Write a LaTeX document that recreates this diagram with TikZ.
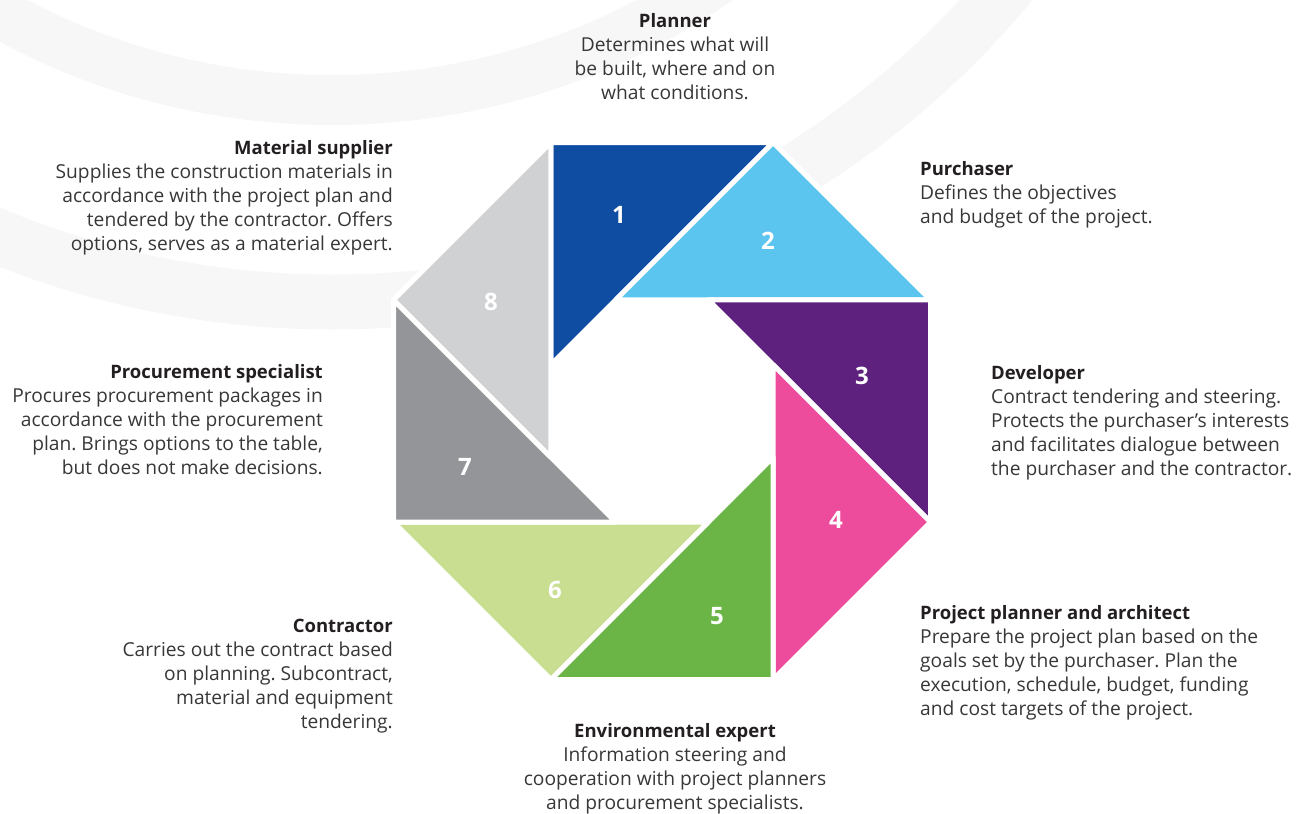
\documentclass[tikz,border=0pt]{standalone}
\usepackage{fontspec}
\setmainfont{Open Sans}
\frenchspacing
\usetikzlibrary{calc}

\definecolor{bandGrey}{RGB}{247,247,247}
\definecolor{textGrey}{RGB}{55,55,55}
\definecolor{titleGrey}{RGB}{35,31,32}
\definecolor{pieceA}{RGB}{14,77,161}
\definecolor{pieceB}{RGB}{91,196,239}
\definecolor{pieceC}{RGB}{94,33,126}
\definecolor{pieceD}{RGB}{236,76,155}
\definecolor{pieceE}{RGB}{106,181,69}
\definecolor{pieceF}{RGB}{201,222,145}
\definecolor{pieceG}{RGB}{148,149,153}
\definecolor{pieceH}{RGB}{208,209,211}

\newcommand{\roleTitle}[1]{{\fontsize{18.5}{24}\selectfont\color{titleGrey}\bfseries #1}}

\begin{document}
\begin{tikzpicture}[x=1pt,y=-1pt]

		\useasboundingbox (0,0) rectangle (1315,814);

		\tikzset{BandStyle/.style =
				{draw=bandGrey, line width=#1}
		}
		\tikzset{PieceStyle/.style =
				{draw=white, line width=5pt, line join=round}
		}
		\tikzset{NumberStyle/.style =
				{text=white, inner sep=0pt, font=\fontsize{24}{24}\selectfont\bfseries}
		}
		\tikzset{RoleStyle/.style =
				{inner sep=0pt, text=textGrey, font=\fontsize{19.2}{24}\selectfont}
		}

		%bands
		\begin{scope}
			\clip (0,0) rectangle (1315,814);
			\coordinate (bandCentre) at (332,-580);
			\draw[BandStyle=50pt] (bandCentre) circle[radius=680pt];
			\draw[BandStyle=55pt] (bandCentre) circle[radius=882pt];
		\end{scope}

		%octagon
		\coordinate (v1) at (550.8,142.5);
		\coordinate (v2) at (773.2,142.5);
		\coordinate (v3) at (930.5,299.8);
		\coordinate (v4) at (930.5,522.2);
		\coordinate (v5) at (773.2,679.5);
		\coordinate (v6) at (550.8,679.5);
		\coordinate (v7) at (393.5,522.2);
		\coordinate (v8) at (393.5,299.8);

		\filldraw[fill=white, PieceStyle] (v1) -- (v2) -- (v3) -- (v4) -- (v5) -- (v6) -- (v7) -- (v8) -- cycle;

		%pieces
		\foreach \i/\j/\col/\nx/\ny in {1/2/pieceA/619/215, 2/3/pieceB/768/241,
				3/4/pieceC/862/376, 4/5/pieceD/836/520, 5/6/pieceE/717/616,
				6/7/pieceF/555/590, 7/8/pieceG/465/467, 8/1/pieceH/491/302}{
			\filldraw[fill=\col, PieceStyle] (v\i) -- (v\j) -- ($(v\i)!1!-90:(v\j)$) -- cycle;
			\node[NumberStyle] (num\i) at (\nx,\ny) {\i};
		}

		%roles
		\node[RoleStyle, anchor=north, align=center] (planner) at (675,13)
			{\roleTitle{Planner}\\Determines what will\\be built, where and on\\what conditions.};
		\node[RoleStyle, anchor=north west, align=left] (purchaser) at (920,161)
			{\roleTitle{Purchaser}\\Defines the objectives\\and budget of the project.};
		\node[RoleStyle, anchor=north west, align=left] (developer) at (991,365)
			{\roleTitle{Developer}\\Contract tendering and steering.\\Protects the purchaser’s interests\\and facilitates dialogue between\\the purchaser and the contractor.};
		\node[RoleStyle, anchor=north west, align=left] (architect) at (920,605)
			{\roleTitle{Project planner and architect}\\Prepare the project plan based on the\\goals set by the purchaser. Plan the\\execution, schedule, budget, funding\\and cost targets of the project.};
		\node[RoleStyle, anchor=north, align=center] (envExpert) at (675,723)
			{\roleTitle{Environmental expert}\\Information steering and\\cooperation with project planners\\and procurement specialists.};
		\node[RoleStyle, anchor=north east, align=right] (contractor) at (393,619)
			{\roleTitle{Contractor}\\Carries out the contract based\\on planning. Subcontract,\\material and equipment\\tendering.};
		\node[RoleStyle, anchor=north east, align=right] (procurement) at (323,364)
			{\roleTitle{Procurement specialist}\\Procures procurement packages in\\accordance with the procurement\\plan. Brings options to the table,\\but does not make decisions.};
		\node[RoleStyle, anchor=north east, align=right] (supplier) at (393,140)
			{\roleTitle{Material supplier}\\Supplies the construction materials in\\accordance with the project plan and\\tendered by the contractor. Offers\\options, serves as a material expert.};

\end{tikzpicture}
\end{document}
